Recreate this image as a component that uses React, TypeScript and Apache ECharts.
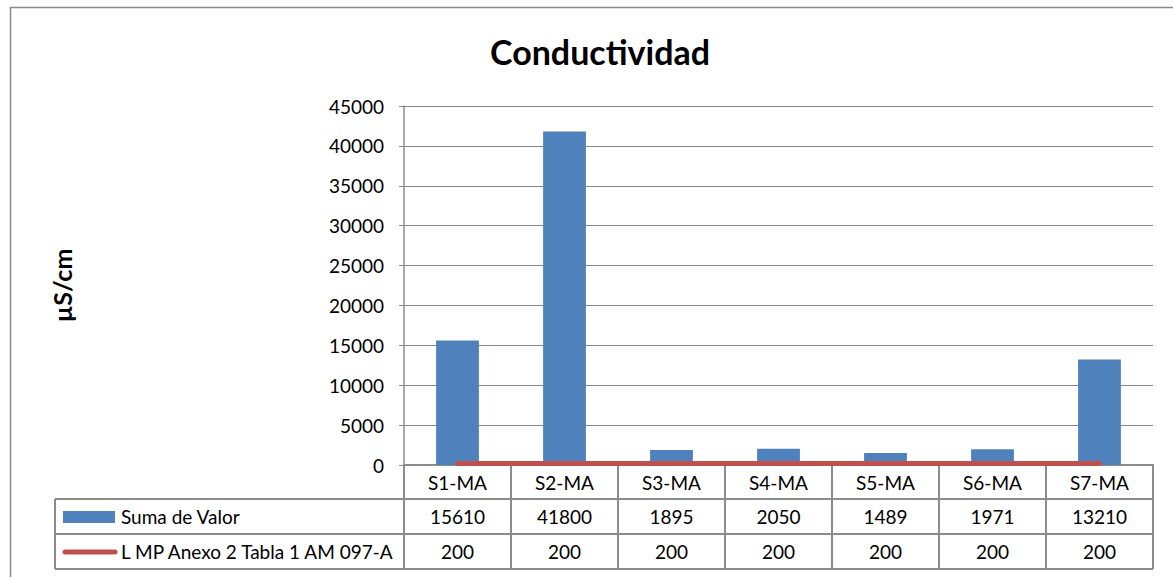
import React, { useEffect, useRef } from "react";
import * as echarts from "echarts";

const categories = ["S1-MA", "S2-MA", "S3-MA", "S4-MA", "S5-MA", "S6-MA", "S7-MA"];
const sumaValor = [15610, 41800, 1895, 2050, 1489, 1971, 13210];
const limite = [200, 200, 200, 200, 200, 200, 200];
const seriesNames = ["Suma de Valor", "L MP Anexo 2 Tabla 1 AM 097-A"];
const titleText = "Conductividad";
const yAxisName = "µS/cm";

const W = 1173;
const H = 577;
const FONT = "Lato, 'Open Sans', sans-serif";
const FS = 19;

export default function App() {
  const ref = useRef<HTMLDivElement>(null);
  useEffect(() => {
    if (!ref.current) return;
    const chart = echarts.init(ref.current, null, { renderer: "svg" });
    const gL = 404, gR = 1153, gT = 106, gB = 465;
    const colW = (gR - gL) / categories.length;
    const rows = [465, 499, 534, 569];
    const legL = 55;
    const lineColor = "#8c8c8c";
    const graphics: any[] = [];
    graphics.push({ type: "rect", shape: { x: 10.5, y: 7.5, width: 1200, height: 600 }, style: { fill: "none", stroke: "#8a8a8a", lineWidth: 1.5 }, silent: true });
    graphics.push({ type: "line", shape: { x1: legL, y1: rows[1], x2: gR, y2: rows[1] }, style: { stroke: lineColor, lineWidth: 2 } });
    graphics.push({ type: "line", shape: { x1: legL, y1: rows[2], x2: gR, y2: rows[2] }, style: { stroke: lineColor, lineWidth: 2 } });
    graphics.push({ type: "line", shape: { x1: legL, y1: rows[3], x2: gR, y2: rows[3] }, style: { stroke: lineColor, lineWidth: 2 } });
    graphics.push({ type: "line", shape: { x1: legL, y1: rows[1], x2: legL, y2: rows[3] }, style: { stroke: lineColor, lineWidth: 2 } });
    for (let i = 0; i <= categories.length; i++) {
      const x = gL + i * colW;
      graphics.push({ type: "line", shape: { x1: x, y1: rows[0], x2: x, y2: rows[3] }, style: { stroke: lineColor, lineWidth: 2 } });
    }
    const txt = (text: string, x: number, y: number, align = "center") => ({
      type: "text", x, y,
      style: { text, fontSize: FS, fontFamily: FONT, fill: "#000", align, verticalAlign: "middle" },
    });
    categories.forEach((c, i) => {
      const cx = gL + (i + 0.5) * colW;
      graphics.push(txt(c, cx, (rows[0] + rows[1]) / 2));
      graphics.push(txt(String(sumaValor[i]), cx, (rows[1] + rows[2]) / 2));
      graphics.push(txt(String(limite[i]), cx, (rows[2] + rows[3]) / 2));
    });
    graphics.push({ type: "rect", shape: { x: 63, y: 511, width: 52, height: 12 }, style: { fill: "#4F81BD" } });
    graphics.push({ type: "line", shape: { x1: 65, y1: 552, x2: 115, y2: 552 }, style: { stroke: "#C0504D", lineWidth: 5, lineCap: "round" } });
    graphics.push(txt(seriesNames[0], 121, (rows[1] + rows[2]) / 2, "left"));
    graphics.push(txt(seriesNames[1], 121, (rows[2] + rows[3]) / 2, "left"));

    chart.setOption({
      animation: false,
      backgroundColor: "#fff",
      title: {
        text: titleText,
        left: 485,
        top: 29,
        textStyle: { fontSize: 34, fontWeight: "bold", fontFamily: FONT, color: "#000" },
      },
      grid: { left: gL, right: W - gR, top: gT, bottom: H - gB },
      xAxis: {
        type: "category",
        data: categories,
        axisLine: { show: true, lineStyle: { color: lineColor, width: 2 } },
        axisTick: { show: false },
        axisLabel: { show: false },
        splitLine: { show: false },
      },
      yAxis: {
        type: "value",
        min: 0,
        max: 45000,
        interval: 5000,
        name: yAxisName,
        nameLocation: "middle",
        nameRotate: 90,
        nameGap: 330,
        nameTextStyle: { fontSize: 25, fontWeight: "bold", fontFamily: FONT, color: "#000" },
        axisLine: { show: true, lineStyle: { color: lineColor, width: 1.5 } },
        axisTick: { show: true, length: 5, lineStyle: { color: lineColor } },
        axisLabel: { fontSize: FS, fontFamily: FONT, color: "#000", margin: 20, formatter: (v: number) => String(v) },
        splitLine: { show: true, lineStyle: { color: "#868686", width: 1 } },
      },
      series: [
        {
          name: seriesNames[0],
          type: "bar",
          data: sumaValor,
          barWidth: "40%",
          itemStyle: { color: "#4F81BD" },
        },
        {
          name: seriesNames[1],
          type: "line",
          data: limite,
          symbol: "none",
          lineStyle: { color: "#C0504D", width: 5, cap: "round" },
        },
      ],
      graphic: graphics,
    });
    return () => chart.dispose();
  }, []);
  return <div ref={ref} style={{ position: "fixed", left: 0, top: 0, width: W, height: H }} />;
}
